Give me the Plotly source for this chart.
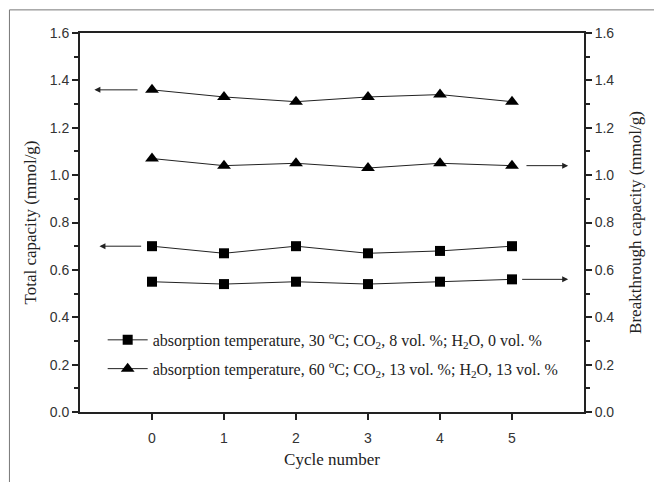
import plotly.graph_objects as go

cycles = [0, 1, 2, 3, 4, 5]
tri_total = [1.36, 1.33, 1.31, 1.33, 1.34, 1.31]
tri_break = [1.07, 1.04, 1.05, 1.03, 1.05, 1.04]
sq_total = [0.70, 0.67, 0.70, 0.67, 0.68, 0.70]
sq_break = [0.55, 0.54, 0.55, 0.54, 0.55, 0.56]

label_sq = "absorption temperature, 30 <sup>o</sup>C; CO<sub>2</sub>, 8 vol. %; H<sub>2</sub>O, 0 vol. %"
label_tri = "absorption temperature, 60 <sup>o</sup>C; CO<sub>2</sub>, 13 vol. %; H<sub>2</sub>O, 13 vol. %"

# arrow specs: (y value, tail x, head x, axis)
arrows = [
    (1.36, -0.18, -0.80, "y"),
    (0.70, -0.13, -0.73, "y"),
    (1.04, 5.18, 5.78, "y2"),
    (0.56, 5.12, 5.78, "y2"),
]

fig = go.Figure()
line_style = dict(color="#222", width=1)
sq_marker = dict(symbol="square", size=10, color="black")
tri_marker = dict(symbol="triangle-up", size=12, color="black")

fig.add_trace(go.Scatter(x=cycles, y=sq_total, mode="lines+markers", name=label_sq,
                         line=line_style, marker=sq_marker, legendgroup="a", yaxis="y"))
fig.add_trace(go.Scatter(x=cycles, y=tri_total, mode="lines+markers", name=label_tri,
                         line=line_style, marker=tri_marker, legendgroup="b", yaxis="y"))
fig.add_trace(go.Scatter(x=cycles, y=sq_break, mode="lines+markers", showlegend=False,
                         line=line_style, marker=sq_marker, yaxis="y2"))
fig.add_trace(go.Scatter(x=cycles, y=tri_break, mode="lines+markers", showlegend=False,
                         line=line_style, marker=tri_marker, yaxis="y2"))

for yv, xt, xh, ax in arrows:
    fig.add_annotation(x=xh, y=yv, ax=xt, ay=yv, xref="x", yref=ax, axref="x", ayref=ax,
                       showarrow=True, arrowhead=2, arrowsize=1.2, arrowwidth=1,
                       arrowcolor="#222", text="")

tick_font = dict(family="Liberation Sans, Arial", size=14, color="#333")
title_font = dict(family="Liberation Serif, Times New Roman", size=17, color="#222")

fig.update_layout(
    width=654, height=482,
    margin=dict(l=80, r=67, t=33, b=70),
    plot_bgcolor="white", paper_bgcolor="white",
    showlegend=True,
    legend=dict(x=0.045, y=0.235, xanchor="left", yanchor="top",
                font=dict(family="Liberation Serif, Times New Roman", size=16, color="#222"),
                bgcolor="rgba(0,0,0,0)", traceorder="grouped", tracegroupgap=5,
                itemwidth=40),
    xaxis=dict(range=[-1, 6], tickvals=[0, 1, 2, 3, 4, 5], ticks="outside", ticklen=6,
               tickwidth=1.5, tickcolor="#222", showline=True, linecolor="#222", linewidth=1.8,
               mirror=True, showgrid=False, zeroline=False, tickfont=tick_font,
               ticklabelstandoff=6,
               title=dict(text="Cycle number", font=title_font, standoff=8)),
    yaxis=dict(range=[0, 1.6], dtick=0.2, tickformat=".1f", ticks="outside", ticklen=6,
               tickwidth=1.5, tickcolor="#222", showline=True, linecolor="#222", linewidth=1.8,
               showgrid=False, zeroline=False, tickfont=tick_font,
               minor=dict(dtick=0.1, ticks="outside", ticklen=4, tickcolor="#222", tickwidth=1.5),
               title=dict(text="Total capacity (mmol/g)", font=title_font, standoff=9)),
    yaxis2=dict(range=[0, 1.6], dtick=0.2, tickformat=".1f", ticks="outside", ticklen=6,
                tickwidth=1.5, tickcolor="#222", showline=True, linecolor="#222", linewidth=1.8,
                showgrid=False, zeroline=False, tickfont=tick_font, overlaying="y", side="right",
                minor=dict(dtick=0.1, ticks="outside", ticklen=4, tickcolor="#222", tickwidth=1.5),
                title=dict(text="Breakthrough capacity (mmol/g)", font=title_font, standoff=16)),
)

# outer frame lines (top and left)
fig.add_shape(type="line", xref="paper", yref="paper", x0=-0.14, x1=1.2, y0=1.061, y1=1.061,
              line=dict(color="#777", width=1))
fig.add_shape(type="line", xref="paper", yref="paper", x0=-0.14, x1=-0.14, y0=-0.3, y1=1.061,
              line=dict(color="#777", width=1))

fig.write_html("out.html")
